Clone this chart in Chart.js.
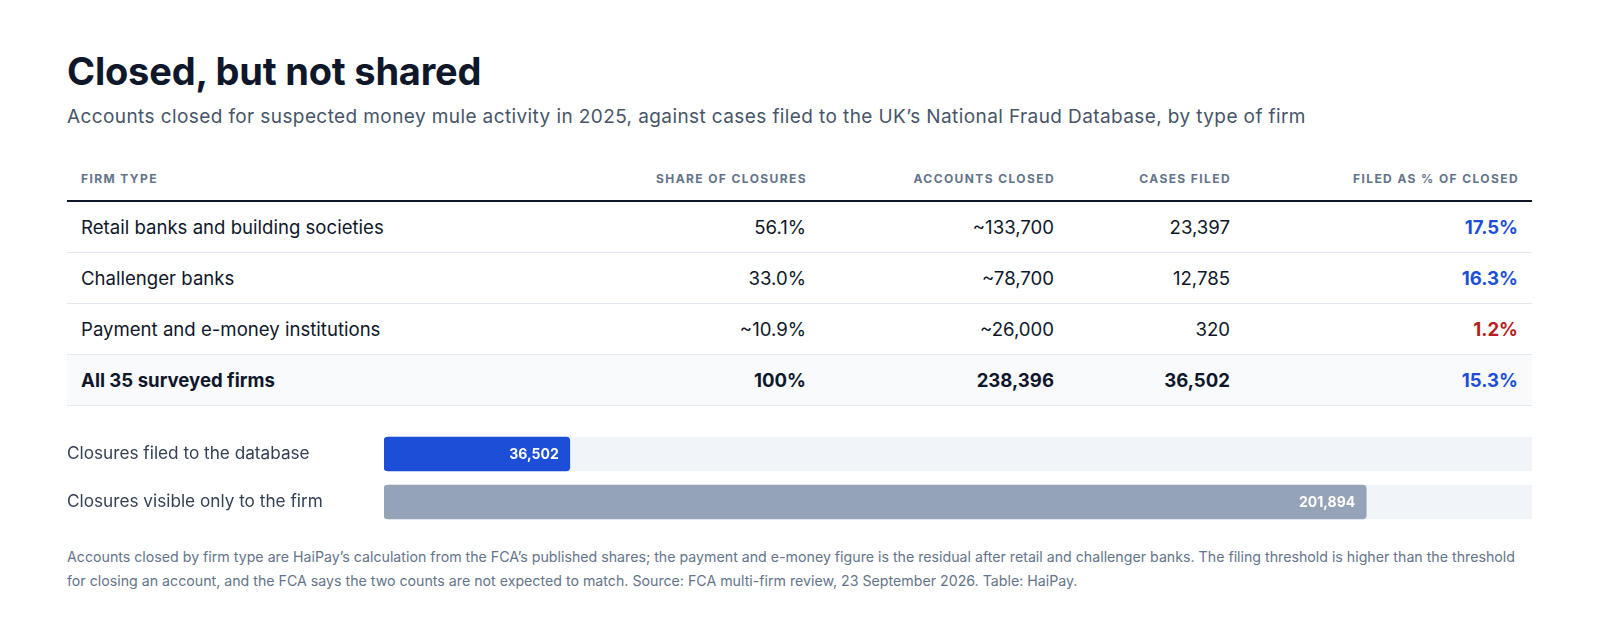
<!DOCTYPE html>
<html>
<head>
<meta charset="utf-8">
<script src="https://cdn.jsdelivr.net/npm/chart.js@4.4.1/dist/chart.umd.min.js"></script>
<style>
  html, body { margin: 0; background: #fff; }
  body { width: 1600px; height: 640px; font-family: Inter, "Liberation Sans", Arial, sans-serif; color: #0f172a; }
  .wrap { position: absolute; left: 67px; top: 0; width: 1465px; }
  h1 { position: absolute; top: 49px; left: 0; margin: 0; font-size: 38px; line-height: 44px; font-weight: 700; letter-spacing: -0.2px; white-space: nowrap; }
  .sub { position: absolute; top: 105px; left: 0; margin: 0; font-size: 19px; line-height: 24px; letter-spacing: 0.4px; color: #475569; white-space: nowrap; }
  table { position: absolute; top: 170px; left: 0; width: 1465px; border-collapse: collapse; table-layout: fixed; }
  th { font-size: 12px; line-height: 14px; font-weight: 700; letter-spacing: 1.4px; text-transform: uppercase; color: #64748b; padding: 2px 13px 14px 14px; border-bottom: 2px solid #0f172a; text-align: right; }
  th:first-child, td:first-child { text-align: left; }
  td { font-size: 18.6px; line-height: 22px; padding: 14px 14px 14px; border-bottom: 1px solid #e2e8f0; text-align: right; }
  tr.total td { font-weight: 700; background: #f8fafc; }
  .blue { color: #1d4ed8; font-weight: 700; }
  .red { color: #b91c1c; font-weight: 700; }
  .bars { position: absolute; top: 430px; left: 0; width: 1465px; height: 96px; }
  .note { position: absolute; top: 545px; left: 0; width: 1465px; margin: 0; font-size: 14.2px; line-height: 24px; color: #64748b; }
</style>
</head>
<body>
<div class="wrap">
  <h1>Closed, but not shared</h1>
  <p class="sub">Accounts closed for suspected money mule activity in 2025, against cases filed to the UK’s National Fraud Database, by type of firm</p>
  <table id="tbl">
    <colgroup><col style="width:452px"><col style="width:301px"><col style="width:248px"><col style="width:176px"><col style="width:288px"></colgroup>
    <thead><tr id="head"></tr></thead>
    <tbody id="body"></tbody>
  </table>
  <div class="bars"><canvas id="chart"></canvas></div>
  <p class="note">Accounts closed by firm type are HaiPay’s calculation from the FCA’s published shares; the payment and e-money figure is the residual after retail and challenger banks. The filing threshold is higher than the threshold for closing an account, and the FCA says the two counts are not expected to match. Source: FCA multi-firm review, 23 September 2026. Table: HaiPay.</p>
</div>
<script>
// table data
const columns = ['Firm type', 'Share of closures', 'Accounts closed', 'Cases filed', 'Filed as % of closed'];
const firmTypes = ['Retail banks and building societies', 'Challenger banks', 'Payment and e-money institutions', 'All 35 surveyed firms'];
const shareOfClosures = ['56.1%', '33.0%', '~10.9%', '100%'];
const accountsClosed = ['~133,700', '~78,700', '~26,000', '238,396'];
const casesFiled = ['23,397', '12,785', '320', '36,502'];
const filedPct = ['17.5%', '16.3%', '1.2%', '15.3%'];

// bar data
const barLabels = ['Closures filed to the database', 'Closures visible only to the firm'];
const barValues = [36502, 201894];
const totalClosed = 238396;

const head = document.getElementById('head');
columns.forEach(c => {
  const th = document.createElement('th');
  th.textContent = c;
  head.appendChild(th);
});

const body = document.getElementById('body');
firmTypes.forEach((f, i) => {
  const tr = document.createElement('tr');
  if (i === firmTypes.length - 1) tr.className = 'total';
  const pctClass = parseFloat(filedPct[i]) < 5 ? 'red' : 'blue';
  tr.innerHTML = '<td>' + f + '</td><td>' + shareOfClosures[i] + '</td><td>' + accountsClosed[i] +
    '</td><td>' + casesFiled[i] + '</td><td class="' + pctClass + '">' + filedPct[i] + '</td>';
  body.appendChild(tr);
});

// the original bars carry ~10px of padding on top of their share,
// so the scale starts a bit below zero and the track is clipped at the right
const lead = 2080;

const valueLabels = {
  id: 'valueLabels',
  afterDatasetsDraw(chart) {
    const ctx = chart.ctx;
    const meta = chart.getDatasetMeta(1);
    ctx.save();
    ctx.font = 'bold 14px Inter, "Liberation Sans", Arial, sans-serif';
    ctx.fillStyle = '#ffffff';
    ctx.textAlign = 'right';
    ctx.textBaseline = 'middle';
    meta.data.forEach((bar, i) => {
      ctx.fillText(barValues[i].toLocaleString('en-GB'), bar.x - 11, bar.y + 1);
    });
    ctx.restore();
  }
};

new Chart(document.getElementById('chart'), {
  type: 'bar',
  data: {
    labels: barLabels,
    datasets: [
      {
        data: barLabels.map(() => totalClosed),
        backgroundColor: '#f1f5f9',
        base: -lead,
        barThickness: 34,
        grouped: false,
        borderRadius: 0,
        clip: 0,
        order: 2
      },
      {
        data: barValues,
        backgroundColor: ['#1d4ed8', '#94a3b8'],
        base: -lead,
        barThickness: 34,
        grouped: false,
        borderRadius: 4,
        borderSkipped: false,
        order: 1
      }
    ]
  },
  options: {
    indexAxis: 'y',
    responsive: true,
    maintainAspectRatio: false,
    animation: false,
    layout: { padding: 0 },
    plugins: { legend: { display: false }, tooltip: { enabled: false } },
    scales: {
      x: { display: false, min: -lead, max: totalClosed - lead },
      y: {
        grid: { display: false },
        border: { display: false },
        ticks: {
          crossAlign: 'far',
          padding: 0,
          color: '#334155',
          font: { family: 'Inter, "Liberation Sans", Arial, sans-serif', size: 17.2 }
        },
        afterFit(scale) {
          scale.width = 317;
          scale.paddingTop = 0;
          scale.paddingBottom = 0;
        }
      }
    }
  },
  plugins: [valueLabels]
});
</script>
</body>
</html>
